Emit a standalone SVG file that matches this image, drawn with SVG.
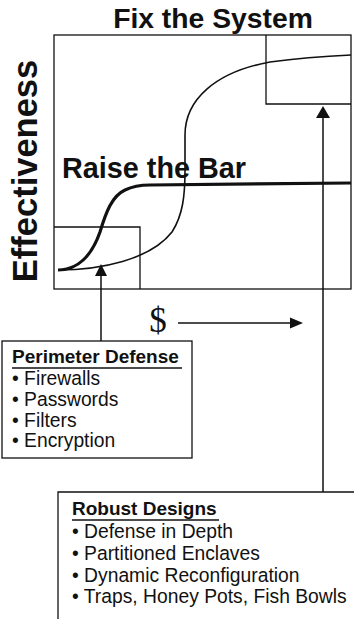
<svg xmlns="http://www.w3.org/2000/svg" width="354" height="619" viewBox="0 0 354 619">
<style>
.box{fill:none;stroke:#111;stroke-width:1.3}
.t{font-family:"Liberation Sans",Arial,sans-serif;fill:#111}
.b{font-weight:bold}
.item{font-size:19.3px}
.conn{stroke:#111;stroke-width:1.5;fill:none}
.head{fill:#111}
</style>
<rect width="354" height="619" fill="#fff"/>
<g id="chart">
<rect class="box" x="54" y="35" width="297" height="254"/>
<path class="box" d="M54,227 H140 V289"/>
<path class="box" d="M266,35 V104 H351"/>
<path fill="none" stroke="#111" stroke-width="1.6" d="M58,270 C100,270 150,260 172,232 C183,215 185,195 185,170 L185,135 C185,100 215,72 270,62 C300,58 330,56 351,55"/>
<path fill="none" stroke="#111" stroke-width="3.2" d="M58,270 C78,270 92,255 100,232 C106,212 112,196 125,190 C133,186 140,185 150,185 L351,183"/>
<text class="t b" x="213" y="28" font-size="28.3" text-anchor="middle">Fix the System</text>
<text class="t b" x="62" y="178" font-size="28.8">Raise the Bar</text>
<text class="t b" font-size="34.5" text-anchor="middle" transform="translate(37,171) rotate(-90)">Effectiveness</text>
<text x="158" y="332" font-family="Liberation Serif,'Times New Roman',serif" font-size="35" text-anchor="middle" fill="#111">$</text>
</g>
<g id="connectors">
<line class="conn" x1="101" y1="341" x2="101" y2="275"/>
<polygon class="head" points="101,264 95,276 107,276"/>
<line class="conn" x1="323" y1="492" x2="323" y2="117"/>
<polygon class="head" points="323,106 316,118 330,118"/>
<line class="conn" x1="178" y1="323" x2="291" y2="323"/>
<polygon class="head" points="303,323 290,317.5 290,328.5"/>
</g>
<g id="perimeter-defense">
<rect class="box" x="2" y="341" width="190" height="117"/>
<text class="t b" x="12" y="363" font-size="19">Perimeter Defense</text>
<line x1="12" y1="368" x2="182" y2="368" stroke="#111" stroke-width="1.5"/>
<text class="t item" x="12" y="385">• Firewalls</text>
<text class="t item" x="12" y="406">• Passwords</text>
<text class="t item" x="12" y="427">• Filters</text>
<text class="t item" x="12" y="447">• Encryption</text>
</g>
<g id="robust-designs">
<path class="box" d="M355,492 H58 V619"/>
<text class="t b" x="72" y="515" font-size="19">Robust Designs</text>
<line x1="72" y1="520" x2="219" y2="520" stroke="#111" stroke-width="1.5"/>
<text class="t item" x="72" y="538">• Defense in Depth</text>
<text class="t item" x="72" y="560">• Partitioned Enclaves</text>
<text class="t item" x="72" y="582">• Dynamic Reconfiguration</text>
<text class="t item" x="72" y="603">• Traps, Honey Pots, Fish Bowls</text>
</g>
</svg>
